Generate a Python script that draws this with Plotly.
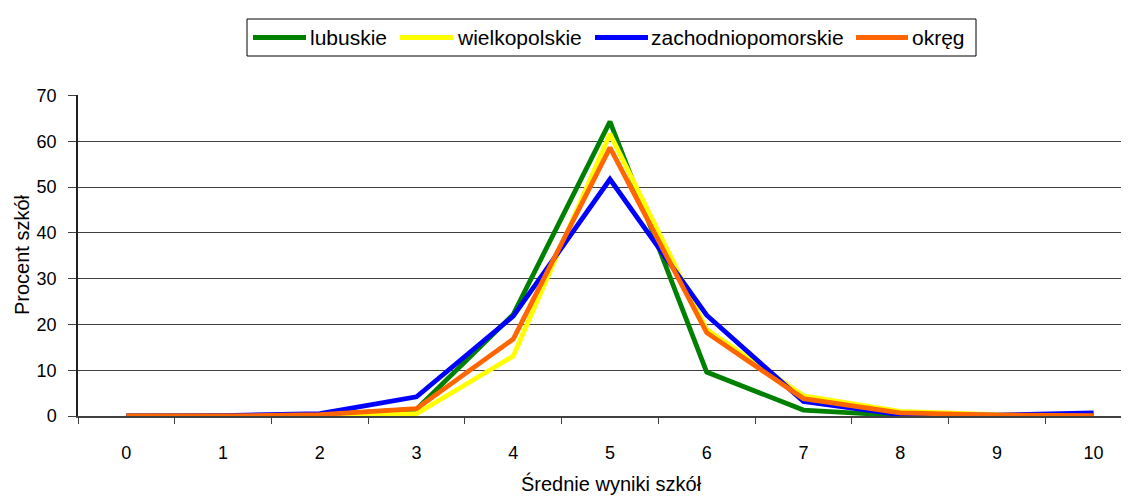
import plotly.graph_objects as go

categories = [0, 1, 2, 3, 4, 5, 6, 7, 8, 9, 10]
lubuskie = [0.0, 0.0, 0.2, 1.5, 22.2, 64.3, 9.6, 1.3, 0.1, 0.0, 0.0]
wielkopolskie = [0.0, 0.0, 0.2, 0.5, 13.1, 61.6, 18.9, 4.4, 1.0, 0.3, 0.1]
zachodniopomorskie = [0.0, 0.1, 0.5, 4.2, 21.8, 51.7, 22.0, 3.2, 0.3, 0.2, 0.7]
okreg = [0.0, 0.0, 0.3, 1.6, 16.8, 58.6, 18.2, 3.8, 0.7, 0.2, 0.1]

series_names = ["lubuskie", "wielkopolskie", "zachodniopomorskie", "okręg"]
series_values = [lubuskie, wielkopolskie, zachodniopomorskie, okreg]
series_colors = ["#008000", "#FFFF00", "#0000FF", "#FF6600"]

y_ticks = [0, 10, 20, 30, 40, 50, 60, 70]

FONT = "Liberation Sans, Arial, sans-serif"

# page-pixel geometry of plot area (page has an 8px body margin)
PX0, PX1, PY0, PY1 = 78, 1129, 95, 416


def px(xp):
    return (xp - PX0) / (PX1 - PX0)


def py(yp):
    return (PY1 - yp) / (PY1 - PY0)


fig = go.Figure()
for name, vals, color in zip(series_names, series_values, series_colors):
    fig.add_trace(go.Scatter(
        x=categories, y=vals, mode="lines", name=name,
        line=dict(color=color, width=4.8), showlegend=False,
    ))

# manual legend (line samples + labels in a framed box)
legend_line_x = [(253, 306), (400, 453), (595, 648), (856, 908)]
legend_text_x = [309, 456, 650, 911]
LEG_Y = 37.5
shapes = [dict(type="rect", xref="paper", yref="paper",
               x0=px(247), x1=px(976), y0=py(19), y1=py(56),
               line=dict(color="black", width=1), fillcolor="white", layer="above")]
annotations = []
for (a, b), tx, name, color in zip(legend_line_x, legend_text_x, series_names, series_colors):
    shapes.append(dict(type="line", xref="paper", yref="paper",
                       x0=px(a), x1=px(b), y0=py(LEG_Y), y1=py(LEG_Y),
                       line=dict(color=color, width=5), layer="above"))
    annotations.append(dict(text=name, xref="paper", yref="paper",
                            x=px(tx), y=py(LEG_Y), xanchor="left", yanchor="middle",
                            showarrow=False, borderpad=0, font=dict(size=21)))

annotations += [
    dict(text="Procent szkół", xref="paper", yref="paper",
         x=px(22), y=py(255), xanchor="center", yanchor="middle",
         textangle=-90, showarrow=False, font=dict(size=20)),
    dict(text="Średnie wyniki szkół", xref="paper", yref="paper",
         x=px(611), y=py(483), xanchor="center", yanchor="middle",
         showarrow=False, font=dict(size=20)),
]

fig.update_layout(
    width=1121, height=490,
    margin=dict(l=70, r=0, t=87, b=82, autoexpand=False),
    paper_bgcolor="white", plot_bgcolor="white",
    font=dict(family=FONT, size=18, color="black"),
    showlegend=False,
    xaxis=dict(
        range=[-0.5, 10.366], tickmode="array", tickvals=categories,
        ticktext=[str(c) for c in categories],
        ticks="outside", ticklen=20, tickcolor="rgba(0,0,0,0)",
        showgrid=False, zeroline=False,
        showline=True, linecolor="#404040", linewidth=1.5,
        minor=dict(ticks="outside", ticklen=6, tickcolor="#404040",
                   tick0=-0.5, dtick=1, showgrid=False),
        tickfont=dict(size=18),
    ),
    yaxis=dict(
        range=[0, 70.1], tickmode="array", tickvals=y_ticks,
        ticks="outside", ticklen=8, tickcolor="#404040",
        showgrid=True, gridcolor="#404040", gridwidth=1,
        zeroline=False, showline=True, linecolor="#202020", linewidth=1.5,
        tickfont=dict(size=18), ticklabelstandoff=8,
    ),
    shapes=shapes,
    annotations=annotations,
)

fig.write_html("out.html")
